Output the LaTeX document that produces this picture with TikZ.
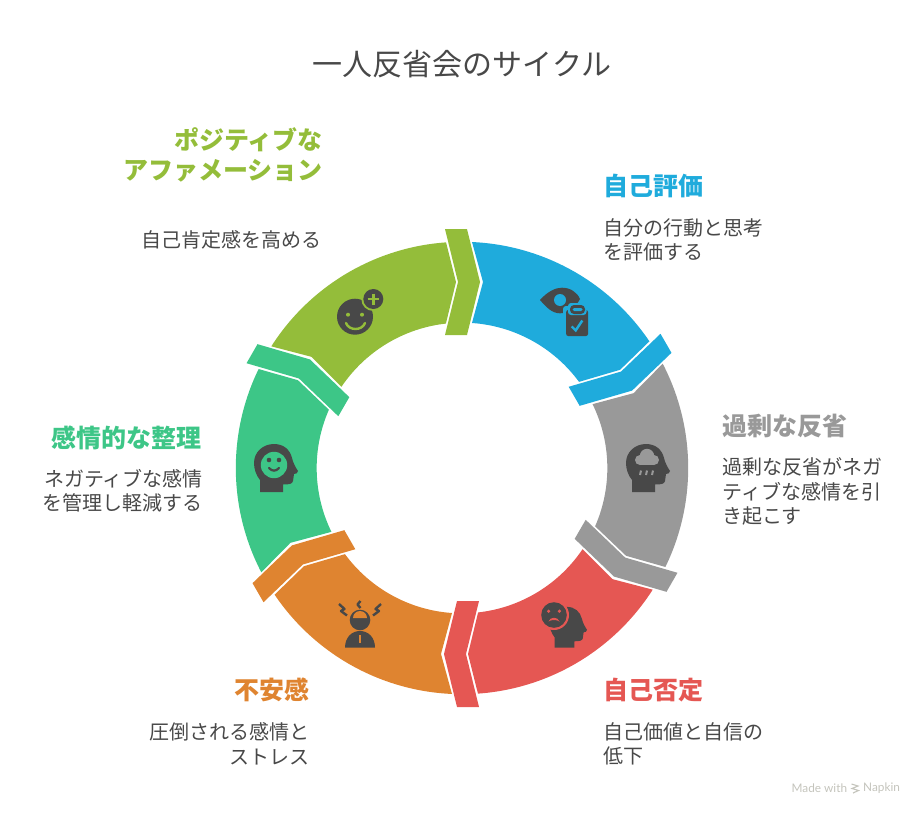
\documentclass[tikz,border=0pt]{standalone}
\usepackage{fontspec}
\setmainfont{Noto Sans CJK JP}
\newfontfamily\latinui{Lato}
\definecolor{segblue}{HTML}{1FABDC}
\definecolor{seggray}{HTML}{999999}
\definecolor{segred}{HTML}{E55753}
\definecolor{segorange}{HTML}{DF8430}
\definecolor{segteal}{HTML}{3DC687}
\definecolor{segolive}{HTML}{94BD3A}
\definecolor{inkdark}{HTML}{484848}
\definecolor{markgray}{HTML}{C4C4BC}
\tikzset{
  headtext/.style={inner sep=0pt,font=\fontsize{25}{30}\selectfont\bfseries},
  bodytext/.style={inner sep=0pt,text=inkdark,font=\fontsize{20}{24.4}\selectfont},
  titletext/.style={inner sep=0pt,text=inkdark,font=\fontsize{30}{34}\selectfont},
  marktext/.style={inner sep=0pt,anchor=west,text=markgray,font=\fontsize{11.8}{13}\selectfont\latinui},
  icon/.style={fill=inkdark,draw=none},
}
\newcommand{\headshape}{(-14,29) -- (-14,17) .. controls (-18,12) and (-20,6) .. (-20,0)
  .. controls (-20,-11) and (-11,-19) .. (0,-19)
  .. controls (10,-19) and (16,-13) .. (18,-5)
  .. controls (19,0) and (22,5) .. (24,8)
  .. controls (24,10) and (22,11) .. (20,11)
  -- (19,18) .. controls (18.5,21) and (15,21.5) .. (9,21.5) -- (9,29) -- cycle}
\begin{document}
\begin{tikzpicture}[x=1pt,y=-1pt]
\useasboundingbox (0,0) rectangle (924,816);
% ring bodies
\foreach \k/\c in {0/segblue,1/seggray,2/segred,3/segorange,4/segteal,5/segolive}{
  \begin{scope}[shift={(462,468)},rotate=-60*\k,x=1pt,y=1pt]
    \fill[\c] (10,226) -- (21,186) -- (10,145.0)
      arc[start angle=86.05,end angle=36.34,radius=145.3]
      -- (158.08,98.2) -- (34.05:226.2)
      arc[start angle=34.05,end angle=87.47,radius=226.2] -- cycle;
  \end{scope}
  \begin{scope}[shift={(462,468)},rotate=-60*\k-60,x=1pt,y=1pt]
    \fill[\c] (-17,239) -- (5,239) -- (18,186) -- (5,133) -- (-17,133) -- (-4,186) -- cycle;
  \end{scope}
}
% icon: eye + clipboard
\fill[icon] (540,300) .. controls (548,291) and (556,287.7) .. (562,287.7)
  .. controls (570,287.7) and (577,292) .. (580,299)
  .. controls (575,308) and (569,313.3) .. (560,313.3)
  .. controls (552,313.3) and (546,307) .. (540,300) -- cycle;
\fill[segblue] (560,300) circle[radius=6];
\fill[segblue,rounded corners=3pt] (563,306) rectangle (591,339);
\fill[icon,rounded corners=2pt] (566.2,310) rectangle (588,336);
\fill[segblue,rounded corners=3pt] (568,303) rectangle (586.5,315);
\fill[icon,rounded corners=4pt] (570,305) rectangle (585,314);
\fill[segblue,rounded corners=1.5pt] (572.5,308) rectangle (582.5,311);
\draw[segblue,line width=2.4pt] (571.7,326.5) -- (575.7,330.5) -- (582.3,320.5);
% icon: smile + plus
\fill[icon] (355,316.7) circle[radius=18];
\fill[segolive] (373.3,299) circle[radius=12];
\fill[icon] (373.3,299) circle[radius=10];
\fill[segolive] (348,314.7) circle[radius=2];
\fill[segolive] (362,314.7) circle[radius=2];
\draw[segolive,line width=2.4pt,line cap=round] (346,323) .. controls (349,331) and (362,331) .. (365,323);
\draw[segolive,line width=2.4pt] (367.5,299) -- (379,299) (373.3,293.5) -- (373.3,304.5);
% icon: head + smile
\begin{scope}[shift={(274,463)}]
  \fill[icon] \headshape;
  \fill[segteal] (0,2) circle[radius=13.2];
  \fill[icon] (-5,-3) circle[radius=2.3];
  \fill[icon] (5,-3) circle[radius=2.3];
  \draw[inkdark,line width=2.2pt,line cap=round] (-5,5) .. controls (-2,8.5) and (2,8.5) .. (5,5);
\end{scope}
% icon: head + rain
\begin{scope}[shift={(646,463)}]
  \fill[icon] \headshape;
  \fill[seggray] (1,-7) circle[radius=7.2];
  \fill[seggray] (-6,-3) circle[radius=5];
  \fill[seggray] (8,-3) circle[radius=5];
  \fill[seggray] (-6,-4) rectangle (8,2);
  \draw[seggray,line width=2pt] (-5,7.5) -- (-6,12) (1,7.5) -- (0,12) (7,7.5) -- (6,12);
\end{scope}
% icon: head + sad face
\begin{scope}[shift={(566.6,623)},scale=0.85]
  \fill[icon] \headshape;
\end{scope}
\fill[segred] (554,615) circle[radius=15];
\fill[icon] (554,615) circle[radius=12.8];
\fill[segred] (548.6,611.2) circle[radius=1.8];
\fill[segred] (559.4,611.2) circle[radius=1.8];
\fill[segred] (548.5,621.5) .. controls (550,616.5) and (558,616.5) .. (559.5,621.5)
  .. controls (557,619.5) and (551,619.5) .. (548.5,621.5) -- cycle;
% icon: person + lightning
\fill[icon] (345,647.7) .. controls (345,637) and (352,631) .. (360,631)
  .. controls (368,631) and (375,637) .. (375,647.7) -- cycle;
\fill[segorange] (359,635) rectangle (361,643);
\fill[icon] (360,620) circle[radius=10.3];
\fill[segorange] (353,618) arc[start angle=180,end angle=360,radius=7] -- cycle;
\draw[inkdark,line width=2.4pt,line join=round] (339,604) -- (344.5,609) -- (341,611) -- (347,615.5);
\draw[inkdark,line width=2.4pt,line join=round] (360.5,601) -- (357.5,604.5) -- (360.5,608);
\draw[inkdark,line width=2.4pt,line join=round] (381,604) -- (375.5,609) -- (379,611) -- (373,615.5);
% title
\node[titletext] (title) at (462,64) {一人反省会のサイクル};
% labels
\node[headtext,text=segblue,anchor=west] (h1) at (603,186) {自己評価};
\node[bodytext,anchor=west,align=left] (b1) at (603,240) {自分の行動と思考\\を評価する};
\node[headtext,text=seggray,anchor=west] (h2) at (722,426) {過剰な反省};
\node[bodytext,anchor=west,align=left] (b2) at (722,491.5) {過剰な反省がネガ\\ティブな感情を引\\き起こす};
\node[headtext,text=segred,anchor=west] (h3) at (603,690) {自己否定};
\node[bodytext,anchor=west,align=left] (b3) at (603,744) {自己価値と自信の\\低下};
\node[headtext,text=segorange,anchor=east] (h4) at (310,690) {不安感};
\node[bodytext,anchor=east,align=right] (b4) at (310,744) {圧倒される感情と\\ストレス};
\node[headtext,text=segteal,anchor=east] (h5) at (202,438) {感情的な整理};
\node[bodytext,anchor=east,align=right] (b5) at (203,491) {ネガティブな感情\\を管理し軽減する};
\node[headtext,text=segolive,anchor=east,align=right] (h6) at (323,155) {ポジティブな\\アファメーション};
\node[bodytext,anchor=east] (b6) at (322,240) {自己肯定感を高める};
% watermark
\node[marktext] (mw) at (791.5,788) {Made with};
\node[marktext] (nk) at (863,788) {Napkin};
\draw[markgray,line width=1.1pt] (851.5,784) -- (858,786) -- (852,788.5) -- (858.5,790.5) -- (853,793);
\end{tikzpicture}
\end{document}
